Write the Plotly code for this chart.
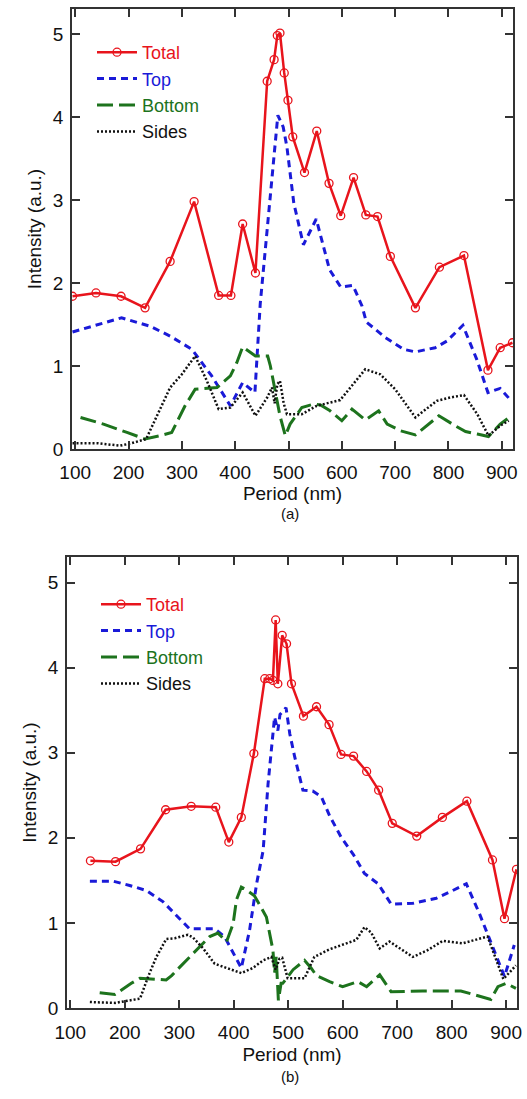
import plotly.graph_objects as go

# ---------------- data: panel (a) ----------------
a_total_x = [95, 139, 186, 231, 278, 323, 369, 392, 414, 438, 460, 473, 479, 484, 492, 499, 508, 530, 553, 576, 598, 622, 645, 667, 691, 738, 783, 829, 874, 897, 920]
a_total_y = [1.84, 1.88, 1.84, 1.70, 2.26, 2.98, 1.85, 1.85, 2.71, 2.12, 4.43, 4.69, 4.98, 5.01, 4.53, 4.20, 3.76, 3.33, 3.83, 3.20, 2.81, 3.27, 2.82, 2.80, 2.32, 1.70, 2.19, 2.33, 0.95, 1.22, 1.28]

a_top_x = [95, 187, 240, 278, 319, 356, 391, 414, 437, 447, 480, 490, 497, 510, 528, 552, 577, 598, 621, 638, 646, 682, 716, 738, 775, 797, 827, 853, 874, 897, 915]
a_top_y = [1.41, 1.58, 1.48, 1.36, 1.20, 0.88, 0.52, 0.80, 0.68, 1.75, 4.02, 3.88, 3.64, 2.96, 2.46, 2.77, 2.16, 1.95, 1.97, 1.72, 1.53, 1.34, 1.20, 1.17, 1.22, 1.30, 1.49, 1.08, 0.68, 0.73, 0.60]

a_bottom_x = [110, 153, 197, 231, 259, 281, 306, 325, 366, 391, 403, 414, 438, 461, 466, 484, 494, 503, 525, 547, 560, 578, 600, 619, 644, 669, 685, 710, 738, 760, 782, 810, 832, 854, 875, 897, 918]
a_bottom_y = [0.38, 0.30, 0.20, 0.12, 0.16, 0.20, 0.52, 0.72, 0.74, 0.88, 1.04, 1.23, 1.12, 1.12, 1.00, 0.40, 0.16, 0.30, 0.50, 0.54, 0.53, 0.46, 0.34, 0.48, 0.35, 0.46, 0.30, 0.22, 0.17, 0.28, 0.40, 0.29, 0.21, 0.18, 0.15, 0.30, 0.40]

a_sides_x = [95, 141, 184, 206, 233, 278, 300, 325, 347, 369, 391, 414, 438, 460, 469, 474, 479, 484, 491, 497, 525, 553, 597, 619, 644, 672, 700, 738, 778, 803, 829, 854, 875, 897, 913]
a_sides_y = [0.07, 0.07, 0.04, 0.07, 0.12, 0.74, 0.90, 1.12, 0.82, 0.48, 0.50, 0.68, 0.40, 0.62, 0.74, 0.55, 0.78, 0.82, 0.55, 0.42, 0.42, 0.52, 0.59, 0.76, 0.96, 0.90, 0.72, 0.38, 0.58, 0.62, 0.65, 0.42, 0.16, 0.28, 0.34]

# ---------------- data: panel (b) ----------------
b_total_x = [137, 183, 229, 275, 322, 367, 391, 414, 437, 457, 466, 472, 477, 481, 489, 497, 506, 528, 552, 575, 597, 620, 644, 666, 691, 736, 783, 828, 875, 897, 919]
b_total_y = [1.73, 1.72, 1.87, 2.33, 2.37, 2.36, 1.95, 2.24, 2.99, 3.87, 3.87, 3.85, 4.56, 3.81, 4.38, 4.28, 3.81, 3.43, 3.54, 3.33, 2.98, 2.96, 2.78, 2.56, 2.17, 2.02, 2.24, 2.43, 1.74, 1.05, 1.63]

b_top_x = [136, 179, 209, 240, 270, 292, 319, 365, 383, 414, 429, 442, 454, 463, 475, 481, 485, 496, 503, 512, 527, 545, 561, 576, 597, 620, 640, 665, 689, 729, 772, 802, 827, 851, 875, 897, 915]
b_top_y = [1.49, 1.49, 1.44, 1.38, 1.25, 1.11, 0.93, 0.93, 0.84, 0.47, 0.91, 1.46, 1.85, 2.63, 3.42, 3.26, 3.45, 3.53, 3.22, 2.95, 2.56, 2.55, 2.48, 2.26, 2.01, 1.80, 1.58, 1.46, 1.22, 1.23, 1.29, 1.38, 1.46, 1.11, 0.72, 0.37, 0.74]

b_bottom_x = [154, 182, 212, 228, 276, 286, 301, 338, 356, 371, 387, 399, 405, 414, 423, 438, 448, 460, 472, 475, 478, 482, 487, 490, 509, 530, 542, 552, 576, 600, 628, 644, 668, 677, 689, 747, 817, 845, 872, 885, 900, 918]
b_bottom_y = [0.18, 0.16, 0.29, 0.35, 0.33, 0.38, 0.48, 0.72, 0.84, 0.88, 0.78, 0.99, 1.27, 1.42, 1.39, 1.32, 1.21, 1.07, 0.68, 0.41, 0.60, 0.09, 0.29, 0.29, 0.45, 0.56, 0.47, 0.38, 0.31, 0.25, 0.31, 0.25, 0.39, 0.31, 0.19, 0.20, 0.20, 0.15, 0.10, 0.25, 0.29, 0.23]

b_sides_x = [136, 182, 228, 243, 258, 276, 292, 316, 325, 344, 365, 389, 414, 435, 454, 469, 477, 484, 489, 499, 530, 548, 576, 607, 625, 640, 652, 668, 686, 729, 756, 784, 820, 866, 882, 895, 918]
b_sides_y = [0.07, 0.06, 0.11, 0.37, 0.60, 0.81, 0.82, 0.86, 0.83, 0.70, 0.52, 0.47, 0.41, 0.47, 0.56, 0.60, 0.45, 0.58, 0.59, 0.35, 0.35, 0.60, 0.69, 0.76, 0.80, 0.95, 0.89, 0.70, 0.78, 0.60, 0.68, 0.79, 0.76, 0.84, 0.56, 0.34, 0.50]

x_ticks = [100, 200, 300, 400, 500, 600, 700, 800, 900]
y_ticks = [0, 1, 2, 3, 4, 5]
series_names = ["Total", "Top", "Bottom", "Sides"]

RED = "#e8141c"
BLUE = "#1a1ad8"
GREEN = "#1d731d"
BLACK = "#111111"
FONT = "Liberation Sans"

fig = go.Figure()


def add_panel(xa, ya, legend, total, top, bottom, sides):
    fig.add_trace(go.Scatter(
        x=total[0], y=total[1], mode="lines+markers", xaxis=xa, yaxis=ya, legend=legend,
        name=f"<span style='color:{RED}'>{series_names[0]}</span>",
        line=dict(color=RED, width=2.5),
        marker=dict(symbol="circle-open", size=8, color=RED, line=dict(width=1.3, color=RED))))
    fig.add_trace(go.Scatter(
        x=top[0], y=top[1], mode="lines", xaxis=xa, yaxis=ya, legend=legend,
        name=f"<span style='color:{BLUE}'>{series_names[1]}</span>",
        line=dict(color=BLUE, width=3, dash="7px,5px")))
    fig.add_trace(go.Scatter(
        x=bottom[0], y=bottom[1], mode="lines", xaxis=xa, yaxis=ya, legend=legend,
        name=f"<span style='color:{GREEN}'>{series_names[2]}</span>",
        line=dict(color=GREEN, width=3, dash="16px,6px")))
    fig.add_trace(go.Scatter(
        x=sides[0], y=sides[1], mode="lines", xaxis=xa, yaxis=ya, legend=legend,
        name=f"<span style='color:{BLACK}'>{series_names[3]}</span>",
        line=dict(color=BLACK, width=2.5, dash="2px,2px")))


add_panel("x", "y", "legend", (a_total_x, a_total_y), (a_top_x, a_top_y),
          (a_bottom_x, a_bottom_y), (a_sides_x, a_sides_y))
add_panel("x2", "y2", "legend2", (b_total_x, b_total_y), (b_top_x, b_top_y),
          (b_bottom_x, b_bottom_y), (b_sides_x, b_sides_y))

W, H = 527, 1099
axis_common = dict(showline=True, linecolor="#333333", linewidth=1.5, mirror="ticks",
                   ticks="inside", ticklen=8, tickwidth=1.5, tickcolor="#333333",
                   showgrid=False, zeroline=False, automargin=False,
                   tickfont=dict(family=FONT, size=19, color="#111111"))
y_extra = dict(ticklabelstandoff=3)
title_font = dict(family=FONT, size=19, color="#111111")

fig.update_layout(
    width=W, height=H, margin=dict(l=0, r=0, t=0, b=0, autoexpand=False),
    paper_bgcolor="white", plot_bgcolor="white", showlegend=True,
    xaxis=dict(domain=[72 / W, 513 / W], range=[94, 921], tickvals=x_ticks, anchor="y",
               ticklabelstandoff=5,
               title=dict(text="Period (nm)", font=title_font, standoff=0), **axis_common),
    yaxis=dict(domain=[1 - 449 / H, 1 - 9 / H], range=[0, 5.3], tickvals=y_ticks, anchor="x",
               title=dict(text="Intensity (a.u.)", font=title_font, standoff=6), **axis_common, **y_extra),
    xaxis2=dict(domain=[67 / W, 517 / W], range=[94, 920], tickvals=x_ticks, anchor="y2",
                ticklabelstandoff=6,
                title=dict(text="Period (nm)", font=title_font, standoff=6), **axis_common),
    yaxis2=dict(domain=[1 - 1008 / H, 1 - 557 / H], range=[0, 5.3], tickvals=y_ticks, anchor="x2",
                title=dict(text="Intensity (a.u.)", font=title_font, standoff=6), **axis_common, **y_extra),
    legend=dict(x=92 / W, y=1 - 34 / H, xanchor="left", yanchor="top", bgcolor="rgba(0,0,0,0)",
                font=dict(family=FONT, size=18), itemwidth=40, tracegroupgap=0),
    legend2=dict(x=96 / W, y=1 - 586 / H, xanchor="left", yanchor="top", bgcolor="rgba(0,0,0,0)",
                 font=dict(family=FONT, size=18), itemwidth=40, tracegroupgap=0),
    annotations=[
        dict(text="(a)", x=290 / W, y=1 - 513 / H, xref="paper", yref="paper", showarrow=False,
             font=dict(family=FONT, size=15, color="#111111")),
        dict(text="(b)", x=290 / W, y=1 - 1087 / H, xref="paper", yref="paper", showarrow=False,
             font=dict(family=FONT, size=15, color="#111111")),
    ],
)

fig.write_html("out.html")
